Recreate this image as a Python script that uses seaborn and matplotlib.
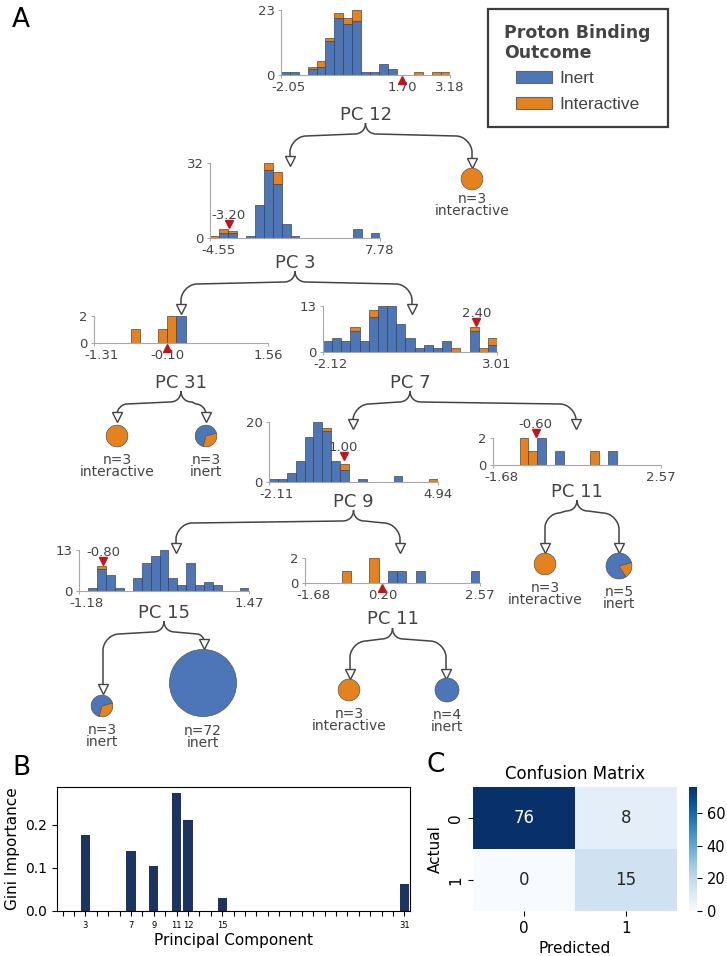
import numpy as np
import pandas as pd
import matplotlib
matplotlib.use("Agg")
import matplotlib.pyplot as plt
import seaborn as sns
from matplotlib.path import Path
from matplotlib.patches import PathPatch, Rectangle
from matplotlib.transforms import offset_copy, ScaledTranslation

# ---------------- data ----------------
class_names = ["Inert", "Interactive"]

pc12_range = [-2.05, 3.18]
pc12_split = 1.70
pc12_inert = [1, 1, 0, 2, 3, 12, 20, 18, 19, 1, 1, 4, 2, 0, 0, 0, 0, 0, 0]
pc12_interactive = [0, 0, 0, 1, 2, 1, 2, 2, 4, 0, 0, 0, 0, 0, 0, 1, 0, 1, 1]

pc3_range = [-4.55, 7.78]
pc3_split = -3.20
pc3_inert = [0, 2, 2, 0, 1, 14, 29, 23, 6, 1, 0, 0, 0, 0, 0, 0, 4, 0, 2]
pc3_interactive = [1, 2, 1, 0, 0, 0, 3, 5, 0, 0, 0, 0, 0, 0, 0, 0, 0, 0, 0]

pc31_range = [-1.31, 1.56]
pc31_split = -0.10
pc31_inert = [0, 0, 0, 0, 0, 0, 0, 0, 0, 2, 0, 0, 0, 0, 0, 0, 0, 0, 0]
pc31_interactive = [0, 0, 0, 0, 1, 0, 0, 1, 2, 0, 0, 0, 0, 0, 0, 0, 0, 0, 0]

pc7_range = [-2.12, 3.01]
pc7_split = 2.40
pc7_inert = [3, 4, 3, 6, 3, 10, 13, 13, 8, 4, 1, 2, 1, 3, 0, 0, 6, 0, 2]
pc7_interactive = [0, 0, 0, 1, 0, 2, 0, 0, 0, 0, 0, 0, 0, 0, 1, 0, 1, 1, 2]

pc9_range = [-2.11, 4.94]
pc9_split = 1.00
pc9_inert = [1, 1, 3, 7, 15, 20, 17, 7, 4, 0, 1, 0, 0, 0, 2, 0, 0, 0, 0]
pc9_interactive = [0, 0, 0, 0, 0, 0, 1, 0, 2, 0, 0, 0, 0, 0, 0, 0, 0, 0, 1]

pc11a_range = [-1.68, 2.57]
pc11a_split = -0.60
pc11a_inert = [0, 0, 0, 0, 0, 2, 0, 1, 0, 0, 0, 0, 0, 1, 0, 0, 0, 0, 0]
pc11a_interactive = [0, 0, 0, 2, 1, 0, 0, 0, 0, 0, 0, 1, 0, 0, 0, 0, 0, 0, 0]

pc15_range = [-1.18, 1.47]
pc15_split = -0.80
pc15_inert = [0, 1, 7, 5, 1, 0, 4, 9, 11, 13, 4, 2, 9, 2, 3, 2, 0, 0, 1]
pc15_interactive = [0, 0, 1, 0, 0, 0, 0, 0, 0, 0, 0, 0, 0, 0, 0, 0, 0, 0, 0]

pc11b_range = [-1.68, 2.57]
pc11b_split = 0.20
pc11b_inert = [0, 0, 0, 0, 0, 0, 0, 0, 0, 1, 1, 0, 1, 0, 0, 0, 0, 0, 1]
pc11b_interactive = [0, 0, 0, 0, 1, 0, 0, 2, 0, 0, 0, 0, 0, 0, 0, 0, 0, 0, 0]

leaf_n = [3, 3, 3, 3, 5, 3, 72, 3, 4]
leaf_inert = [0, 0, 2, 0, 4, 2, 72, 0, 4]
leaf_interactive = [3, 3, 1, 3, 1, 1, 0, 3, 0]

pc_numbers = list(range(1, 32))
gini_importance = [0, 0, 0.176, 0, 0, 0, 0.139, 0, 0.104, 0, 0.274, 0.210, 0, 0, 0.030,
                   0, 0, 0, 0, 0, 0, 0, 0, 0, 0, 0, 0, 0, 0, 0, 0.063]

confusion = [[76, 8], [0, 15]]
cm_labels = ["0", "1"]

# ---------------- style ----------------
W, H = 727, 956
BLUE = "#4C76B7"
ORANGE = "#E5821E"
EDGE = "#3a3a3a"
TXT = "#444443"
AXC = "#a8a8a8"
RED = "#C0151B"
NAVY = "#1C3461"

fig = plt.figure(figsize=(W / 100, H / 100), dpi=100)


def px_axes(L, T, R, B):
    return fig.add_axes([L / W, 1 - B / H, (R - L) / W, (B - T) / H])


ov = fig.add_axes([0, 0, 1, 1])
ov.set_xlim(0, W)
ov.set_ylim(H, 0)
ov.axis("off")


def ctext(x, yc, s, size, **kw):
    # place text so that the cap/digit centre of its (last) line is at yc (pixels)
    em = size * 100 / 72
    ov.text(x, yc + 0.36 * em, s, fontsize=size, va="baseline", **kw)


def draw_hist(pc, rng, split, inert, inter, box, mode, label_y):
    L, T, R, B = box
    ax = px_axes(L, T, R, B)
    ax.patch.set_alpha(0)
    inert = np.array(inert)
    inter = np.array(inter)
    nb = len(inert)
    edges = np.linspace(rng[0], rng[1], nb + 1)
    w = edges[1] - edges[0]
    mb = inert > 0
    ax.bar(edges[:-1][mb], inert[mb], width=w, align="edge", color=BLUE,
           edgecolor=EDGE, linewidth=0.45)
    mo = inter > 0
    ax.bar(edges[:-1][mo], inter[mo], width=w, bottom=inert[mo], align="edge",
           color=ORANGE, edgecolor=EDGE, linewidth=0.45)
    tot = inert + inter
    ymax = tot.max()
    ax.set_xlim(rng)
    ax.set_ylim(0, ymax)
    for sp in ["top", "right"]:
        ax.spines[sp].set_visible(False)
    for sp in ["left", "bottom"]:
        ax.spines[sp].set_color(AXC)
        ax.spines[sp].set_linewidth(0.8)
    ax.set_yticks([0, ymax])
    ax.set_yticklabels(["0", str(ymax)])
    if mode == "below":
        ticks = [rng[0], split, rng[1]]
    else:
        ticks = [rng[0], rng[1]]
    ax.set_xticks(ticks)
    ax.set_xticklabels([f"{t:.2f}" for t in ticks])
    ax.tick_params(axis="both", length=2.5, width=0.7, color=AXC, labelsize=9.5,
                   labelcolor=TXT, pad=2)
    first = ax.get_xticklabels()[0]
    first.set_transform(first.get_transform() + ScaledTranslation(0.08, 0, fig.dpi_scale_trans))
    if mode == "below":
        ax.xaxis.get_major_ticks()[1].tick1line.set_visible(False)
        tr = offset_copy(ax.get_xaxis_transform(), fig=fig, y=-5, units="dots")
        ax.plot([split], [0], marker="^", ms=5.5, color=RED, transform=tr,
                clip_on=False, zorder=5)
    else:
        i = int(np.clip((split - rng[0]) // w, 0, nb - 1))
        h = tot[max(i - 1, 0):i + 2].max()
        tr = offset_copy(ax.transData, fig=fig, y=5, units="dots")
        ax.plot([split], [h], marker="v", ms=5.5, color=RED, transform=tr,
                clip_on=False, zorder=5)
        tr2 = offset_copy(ax.transData, fig=fig, y=10, units="dots")
        ax.text(split, h, f"{split:.2f}", transform=tr2, ha="center", va="baseline",
                fontsize=9.5, color=TXT)
    xc = (L + R) / 2
    ctext(xc, label_y, f"PC {pc}", 13, ha="center", color=TXT)
    return xc, label_y + 10


def brace(xp, y0, xc, tip):
    s = 1 if xc > xp else -1
    dx = abs(xc - xp)
    ym = y0 + 11
    yc = tip - 4
    r1 = min(11, dx * 0.45)
    yh = ym + 2
    r2 = min(16, dx * 0.45, max(yc - yh - 3, 4))
    verts = [(xp, y0), (xp, y0 + (ym - y0) * 0.6), (xp + s * r1 * 0.4, ym), (xp + s * r1, ym),
             (xc - s * r2, yh),
             (xc - s * r2 * 0.45, yh), (xc, yh + r2 * 0.55), (xc, yh + r2),
             (xc, yc)]
    codes = [Path.MOVETO, Path.CURVE4, Path.CURVE4, Path.CURVE4, Path.LINETO,
             Path.CURVE4, Path.CURVE4, Path.CURVE4, Path.LINETO]
    ov.add_patch(PathPatch(Path(verts, codes), fill=False, ec=TXT, lw=1.1, zorder=3))
    ov.plot([xc], [yc], marker="v", ms=6.5, mfc="white", mec=TXT, mew=1.0, zorder=6)


def leaf(i, cx, cy, gap=12.5):
    n = leaf_n[i]
    d = 21 * (n / 3) ** 0.375
    vals, cols = [], []
    if leaf_inert[i] > 0:
        vals.append(leaf_inert[i]); cols.append(BLUE)
    if leaf_interactive[i] > 0:
        vals.append(leaf_interactive[i]); cols.append(ORANGE)
    ax = px_axes(cx - d / 2 - 1, cy - d / 2 - 1, cx + d / 2 + 1, cy + d / 2 + 1)
    ax.pie(vals, colors=cols, startangle=15, counterclock=True,
           wedgeprops=dict(edgecolor="#555555", linewidth=0.5))
    ax.set_xlim(-1.06, 1.06)
    ax.set_ylim(-1.06, 1.06)
    ax.set_aspect("equal")
    lab = "interactive" if leaf_interactive[i] > leaf_inert[i] else "inert"
    # two-line label; anchor is the baseline of the last line
    ctext(cx, cy + d / 2 + gap + 11.5, f"n={n}\n{lab}", 10, ha="center", color=TXT,
          linespacing=0.78)


# ---------------- Panel A: tree ----------------
p_root = draw_hist(12, pc12_range, pc12_split, pc12_inert, pc12_interactive,
                   (281, 10, 450, 75), "below", 113)
p_pc3 = draw_hist(3, pc3_range, pc3_split, pc3_inert, pc3_interactive,
                  (210, 163, 380, 238), "above", 261)
p_pc31 = draw_hist(31, pc31_range, pc31_split, pc31_inert, pc31_interactive,
                   (94, 316, 268, 343), "below", 381)
p_pc7 = draw_hist(7, pc7_range, pc7_split, pc7_inert, pc7_interactive,
                  (323, 306, 497, 352), "above", 381)
p_pc9 = draw_hist(9, pc9_range, pc9_split, pc9_inert, pc9_interactive,
                  (269, 422, 438, 482), "above", 500)
p_pc11a = draw_hist(11, pc11a_range, pc11a_split, pc11a_inert, pc11a_interactive,
                    (493, 438, 661, 465), "above", 490)
p_pc15 = draw_hist(15, pc15_range, pc15_split, pc15_inert, pc15_interactive,
                   (79, 550, 249, 591), "above", 611)
p_pc11b = draw_hist(11, pc11b_range, pc11b_split, pc11b_inert, pc11b_interactive,
                    (305, 558, 480, 583), "below", 618)

brace(*p_root, 290, 165)
brace(*p_root, 472, 167)
brace(*p_pc3, 181, 313)
brace(*p_pc3, 412, 313)
brace(*p_pc31, 117, 421)
brace(*p_pc31, 206, 421)
brace(*p_pc7, 353, 428)
brace(*p_pc7, 576, 428)
brace(*p_pc9, 176, 552)
brace(*p_pc9, 400, 552)
brace(*p_pc11a, 545, 552)
brace(*p_pc11a, 619, 552)
brace(*p_pc15, 103, 693)
brace(*p_pc15, 204, 648)
brace(*p_pc11b, 350, 678)
brace(*p_pc11b, 446, 678)

leaf(0, 472, 179, gap=9)
leaf(1, 117, 436)
leaf(2, 206, 436)
leaf(3, 545, 564)
leaf(4, 619, 566)
leaf(5, 102, 706)
leaf(6, 203, 683)
leaf(7, 349, 690)
leaf(8, 447, 690)

# legend
ov.add_patch(Rectangle((488, 9), 180, 118, fill=False, ec="#3c3c3c", lw=1.6, zorder=4))
ov.text(504, 37.7, "Proton Binding", fontsize=12.5, fontweight="bold", color=TXT,
        va="baseline", family="DejaVu Sans")
ov.text(504, 58, "Outcome", fontsize=12.5, fontweight="bold", color=TXT,
        va="baseline", family="DejaVu Sans")
for k, (nm, col) in enumerate(zip(class_names, [BLUE, ORANGE])):
    yy = 71 + 26 * k
    ov.add_patch(Rectangle((516, yy), 36, 12, fc=col, ec="#666666", lw=0.8, zorder=4))
    ov.text(559, yy + 12, nm, fontsize=12.5, color=TXT, va="baseline",
            family="Liberation Sans")

ov.text(12, 27, "A", fontsize=19, va="baseline")
ov.text(12, 775, "B", fontsize=19, va="baseline")
ov.text(427, 772, "C", fontsize=19, va="baseline")

# ---------------- Panel B ----------------
axB = px_axes(57, 787, 410, 911)
dfB = pd.DataFrame({"pc": pc_numbers, "gini": gini_importance})
sns.barplot(data=dfB, x="pc", y="gini", color=NAVY, saturation=1, width=0.8, ax=axB)
axB.set_xticks(range(len(pc_numbers)))
axB.set_xticklabels([str(p) if g > 0 else "" for p, g in zip(pc_numbers, gini_importance)],
                    fontsize=6)
axB.set_yticks([0, 0.1, 0.2])
axB.tick_params(axis="y", labelsize=10)
axB.set_xlabel("Principal Component", fontsize=11, labelpad=2)
axB.set_ylabel("Gini Importance", fontsize=11)

# ---------------- Panel C ----------------
axC = px_axes(473, 787, 677, 911)
cax = px_axes(689, 787, 697, 911)
cm_df = pd.DataFrame(confusion, index=cm_labels, columns=cm_labels)
sns.heatmap(cm_df, annot=True, fmt="d", cmap="Blues", ax=axC, cbar_ax=cax,
            annot_kws=dict(size=12))
axC.set_title("Confusion Matrix", fontsize=12)
axC.set_xlabel("Predicted", fontsize=11)
axC.set_ylabel("Actual", fontsize=11)
axC.tick_params(labelsize=11)
cax.tick_params(labelsize=10.5)

fig.savefig("out.png", dpi=100)
